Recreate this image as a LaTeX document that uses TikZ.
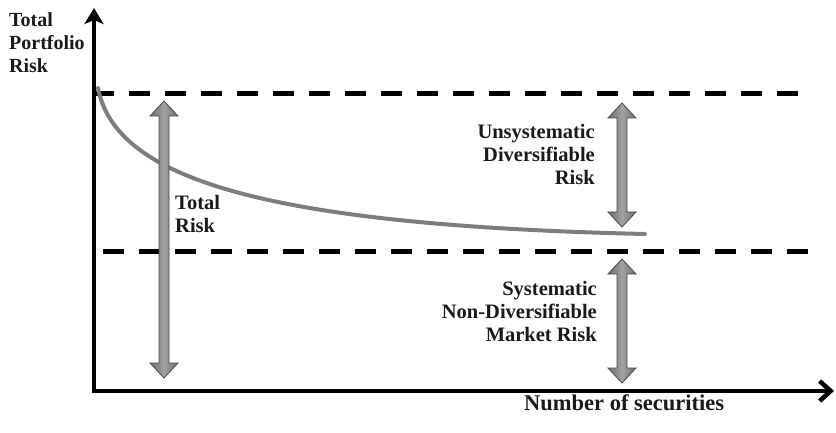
\documentclass[tikz,border=0pt]{standalone}
\usepackage{fontspec}
\setmainfont{Liberation Serif}
\usetikzlibrary{arrows.meta}
\definecolor{txt}{HTML}{1A1A1A}
\definecolor{crv}{HTML}{7D7D7D}
\definecolor{arrdark}{HTML}{6A6A6A}
\definecolor{arrlight}{HTML}{A2A2A2}
\definecolor{arredge}{HTML}{4A4A4A}
\newcommand{\vdblarrow}[3]{% x, top, bottom
  \draw[bigarrow] (#1,#2) -- (#1+14,#2+15) -- (#1+5,#2+15) -- (#1+5,#3-15) -- (#1+14,#3-15)
    -- (#1,#3) -- (#1-14,#3-15) -- (#1-5,#3-15) -- (#1-5,#2+15) -- (#1-14,#2+15) -- cycle;}
\begin{document}
\begin{tikzpicture}[x=1pt,y=-1pt,
  axis/.style={line width=4.5pt,black},
  level/.style={line width=5pt,black,dash pattern=on 21pt off 15pt},
  curve/.style={line width=4pt,crv,line cap=round},
  bigarrow/.style={draw=arredge,line width=0.8pt,left color=arrdark,right color=arrdark,middle color=arrlight,shading angle=90},
  lbl/.style={inner sep=0pt,font=\fontsize{20.5}{23}\selectfont\bfseries,text=txt}]
\useasboundingbox (0,0) rectangle (836,433);
% axes
\coordinate (O) at (94,391);
\coordinate (ytop) at (94,8);
\coordinate (xend) at (834,391);
\draw[axis,-{Stealth[length=16pt,width=19pt,inset=4pt]}] ([yshift=2.5pt]O) -- (ytop);
\draw[axis,-{Straight Barb[length=11pt,width=20pt]}] ([xshift=-2.2pt]O) -- (xend);
% dashed levels
\coordinate (t1) at (93,94); \coordinate (t2) at (798,94);
\coordinate (b1) at (103,251); \coordinate (b2) at (808,251);
\draw[level] (t1) -- (t2);
\draw[level] (b1) -- (b2);
% risk curve
\coordinate (c0) at (98,88);
\coordinate (c1) at (645,234);
\draw[curve] (c0) .. controls (115,175) and (250,225) .. (c1);
% double arrows
\vdblarrow{164}{101}{378}
\vdblarrow{622}{103}{227}
\vdblarrow{622}{259}{383}
% labels (base anchor = baseline of last line)
\node[lbl,anchor=base west,align=left,font=\fontsize{20}{23}\selectfont\bfseries] (ylab) at (9,73) {Total\\Portfolio\\Risk};
\node[lbl,anchor=base west,align=left] (tot) at (175,233) {Total\\Risk};
\node[lbl,anchor=base east,align=right] (unsys) at (595,185) {Unsystematic\\Diversifiable\\Risk};
\node[lbl,anchor=base east,align=right] (sys) at (597,341) {Systematic\\Non-Diversifiable\\Market Risk};
\node[lbl,anchor=base west,font=\fontsize{22.5}{25}\selectfont\bfseries] (xlab) at (524,410) {Number of securities};
\end{tikzpicture}
\end{document}
